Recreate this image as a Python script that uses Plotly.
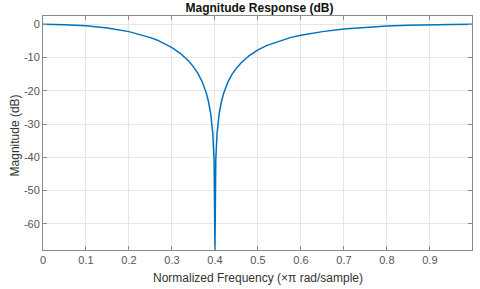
import plotly.graph_objects as go

# Normalized frequency (x pi rad/sample) and magnitude (dB)
freq = [0.0, 0.05, 0.1, 0.15, 0.2, 0.225, 0.25, 0.265, 0.28, 0.3, 0.32, 0.34, 0.35, 0.36,
        0.37, 0.38, 0.385, 0.39, 0.395, 0.398, 0.4, 0.402, 0.405, 0.41, 0.415, 0.42,
        0.43, 0.44, 0.45, 0.46, 0.48, 0.5, 0.52, 0.55, 0.575, 0.6, 0.625, 0.65, 0.7,
        0.75, 0.8, 0.85, 0.9, 0.95, 0.998]
mag_db = [0.0, -0.1, -0.45, -1.1, -2.2, -3.0, -4.0, -4.7, -5.6, -7.0, -8.8, -11.2, -12.8,
          -14.7, -17.2, -20.7, -23.3, -26.8, -32.8, -40.8, -67.9, -40.6, -32.7, -26.8,
          -23.3, -20.9, -17.4, -15.0, -13.2, -11.7, -9.4, -7.7, -6.4, -5.0, -4.0, -3.3,
          -2.65, -2.2, -1.4, -0.9, -0.5, -0.3, -0.1, -0.03, 0.0]

x_ticks = [0, 0.1, 0.2, 0.3, 0.4, 0.5, 0.6, 0.7, 0.8, 0.9]
x_tick_labels = ["0", "0.1", "0.2", "0.3", "0.4", "0.5", "0.6", "0.7", "0.8", "0.9"]
y_ticks = [0, -10, -20, -30, -40, -50, -60]
y_tick_labels = ["0", "-10", "-20", "-30", "-40", "-50", "-60"]

FONT = "Liberation Sans, Arial, Helvetica, sans-serif"

fig = go.Figure()
fig.add_trace(go.Scatter(x=freq, y=mag_db, mode="lines",
                         line=dict(color="#0072BD", width=1.5), hoverinfo="skip"))

axis_common = dict(
    showline=True, linecolor="#8a8a8a", linewidth=1, mirror="ticks",
    ticks="inside", ticklen=4, tickcolor="#8a8a8a", tickwidth=1,
    showgrid=True, gridcolor="#e6e6e6", gridwidth=1, zeroline=False,
    automargin=False,
    tickfont=dict(family=FONT, size=11, color="#555555"),
)

fig.update_layout(
    width=480, height=289,
    margin=dict(l=43, r=8, t=16, b=39),
    paper_bgcolor="white", plot_bgcolor="white",
    showlegend=False,
    title=dict(text="<b>Magnitude Response (dB)</b>", x=0.5406, xanchor="center",
               xref="container", yref="container",
               y=0.974, yanchor="middle",
               font=dict(family=FONT, size=12, color="#111111")),
    xaxis=dict(range=[0, 0.998], tickvals=x_ticks, ticktext=x_tick_labels,
               **axis_common),
    yaxis=dict(range=[-67.9, 2.5], tickvals=y_ticks, ticktext=y_tick_labels,
               **axis_common),
    annotations=[
        dict(text="Normalized Frequency (×π rad/sample)", xref="paper", yref="paper",
             x=0.5, y=-0.12, xanchor="center", yanchor="middle", showarrow=False,
             font=dict(family=FONT, size=12, color="#333333")),
        dict(text="Magnitude (dB)", xref="paper", yref="paper", textangle=-90,
             x=-0.065, y=0.49, xanchor="center", yanchor="middle", showarrow=False,
             font=dict(family=FONT, size=12, color="#333333")),
    ],
)

fig.write_html("out.html",
               config={"displayModeBar": False, "staticPlot": True},
               post_script="document.body.style.margin='0';document.body.style.overflow='hidden';")
